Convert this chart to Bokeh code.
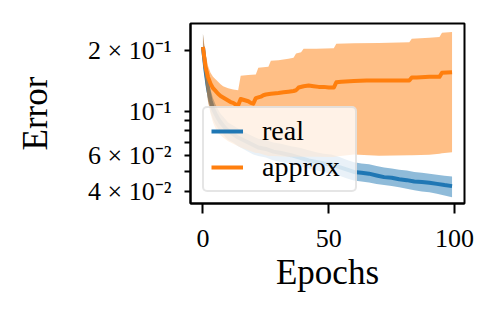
from bokeh.plotting import figure
from bokeh.models import FixedTicker, Legend, LegendItem
from bokeh.embed import file_html
from bokeh.resources import INLINE

# ---- data ----
real_epochs = [0, 1, 2, 3, 4, 5, 6, 7, 8, 9, 10, 12, 14, 16, 18, 20, 22, 25, 28, 31, 35, 38, 42, 45,
               48, 51, 54, 57, 60, 63, 66, 69, 72, 75, 78, 81, 84, 87, 90, 93, 96, 99]
real_mean = [0.208, 0.160, 0.130, 0.113, 0.103, 0.097, 0.092, 0.088, 0.085, 0.082, 0.080, 0.077, 0.074,
             0.072, 0.070, 0.068, 0.066, 0.065, 0.063, 0.062, 0.0605, 0.059, 0.057, 0.056, 0.055, 0.0545,
             0.053, 0.0515, 0.050, 0.0495, 0.049, 0.048, 0.0471, 0.0468, 0.046, 0.0455, 0.0448, 0.0445,
             0.0442, 0.0436, 0.043, 0.0425]
real_upper = [0.242, 0.185, 0.150, 0.128, 0.116, 0.108, 0.102, 0.097, 0.094, 0.091, 0.088, 0.085, 0.082,
              0.079, 0.077, 0.075, 0.073, 0.072, 0.070, 0.069, 0.067, 0.066, 0.064, 0.0625, 0.0615, 0.061,
              0.0595, 0.0575, 0.0558, 0.055, 0.0545, 0.0535, 0.0525, 0.052, 0.0513, 0.0508, 0.050, 0.0495,
              0.049, 0.0484, 0.0478, 0.0474]
real_lower = [0.180, 0.138, 0.113, 0.099, 0.091, 0.086, 0.082, 0.079, 0.077, 0.074, 0.072, 0.070, 0.067,
              0.065, 0.063, 0.061, 0.060, 0.059, 0.057, 0.056, 0.055, 0.0535, 0.052, 0.051, 0.050, 0.049,
              0.048, 0.0465, 0.0453, 0.0448, 0.0443, 0.0435, 0.043, 0.0425, 0.042, 0.0413, 0.0405, 0.040,
              0.0396, 0.039, 0.0382, 0.0374]

approx_epochs = [0, 1, 2, 3, 4, 5, 6, 7, 8, 9, 10, 11, 12, 13, 14, 15, 16, 17, 18, 19, 20, 21, 22, 23,
                 24, 25, 27, 30, 32, 34, 36, 37, 38, 40, 42, 44, 46, 48, 50, 52, 53, 55, 60, 65, 70, 75,
                 80, 82, 83, 85, 90, 94, 95, 99]
approx_mean = [0.208, 0.166, 0.148, 0.137, 0.130, 0.126, 0.122, 0.119, 0.117, 0.115, 0.113, 0.111, 0.110,
               0.108, 0.107, 0.115, 0.114, 0.113, 0.112, 0.110, 0.109, 0.116, 0.117, 0.118, 0.120, 0.121,
               0.122, 0.123, 0.124, 0.125, 0.126, 0.127, 0.131, 0.133, 0.134, 0.133, 0.132, 0.132, 0.131,
               0.131, 0.139, 0.140, 0.141, 0.142, 0.142, 0.142, 0.142, 0.142, 0.147, 0.147, 0.148, 0.148,
               0.155, 0.156]

band_epochs = [0, 1, 2, 3, 4, 5, 6, 7, 8, 10, 12, 14, 15, 18, 21, 22, 24, 26, 27, 30, 34, 36, 37, 39,
               40, 45, 52, 53, 60, 70, 82, 83, 90, 94, 95, 99]
approx_upper = [0.242, 0.193, 0.168, 0.155, 0.148, 0.144, 0.140, 0.136, 0.133, 0.130, 0.128, 0.127, 0.150,
                0.151, 0.152, 0.164, 0.165, 0.166, 0.178, 0.179, 0.182, 0.184, 0.193, 0.196, 0.204, 0.204,
                0.205, 0.216, 0.217, 0.218, 0.220, 0.229, 0.231, 0.233, 0.245, 0.247]
approx_lower = [0.185, 0.140, 0.112, 0.097, 0.088, 0.082, 0.078, 0.076, 0.074, 0.071, 0.069, 0.067, 0.066,
                0.064, 0.062, 0.062, 0.061, 0.060, 0.060, 0.0597, 0.0595, 0.0595, 0.0594, 0.0594, 0.0595,
                0.0594, 0.0593, 0.0596, 0.061, 0.0602, 0.0604, 0.0605, 0.0608, 0.0615, 0.0618, 0.0626]

x_ticks = [0, 50, 100]
y_ticks = [0.04, 0.06, 0.1, 0.2]
y_minor = [0.05, 0.07, 0.08, 0.09]
y_labels = {0.04: "4 × 10⁻²", 0.06: "6 × 10⁻²", 0.1: "10⁻¹", 0.2: "2 × 10⁻¹"}

BLUE = "#1f77b4"
ORANGE = "#ff7f0e"
FONT = "Liberation Serif"

p = figure(frame_width=274, frame_height=180, y_axis_type="log",
           x_range=(-4.95, 103.95), y_range=(0.03485, 0.2722),
           output_backend="svg", toolbar_location=None,
           min_border_left=190, min_border_right=34, min_border_top=23, min_border_bottom=113)

p.xgrid.visible = False
p.ygrid.visible = False
p.outline_line_color = "black"
p.outline_line_width = 2
p.background_fill_color = "white"
p.border_fill_color = "white"

p.varea(x=real_epochs, y1=real_lower, y2=real_upper, fill_color=BLUE, fill_alpha=0.5)
l_real = p.line(real_epochs, real_mean, line_color=BLUE, line_width=4, line_join="round")
p.varea(x=band_epochs, y1=approx_lower, y2=approx_upper, fill_color=ORANGE, fill_alpha=0.5)
l_approx = p.line(approx_epochs, approx_mean, line_color=ORANGE, line_width=4, line_join="round")

# axes
for ax in (p.xaxis[0], p.yaxis[0]):
    ax.axis_line_color = "black"
    ax.axis_line_width = 2
    ax.major_tick_line_color = "black"
    ax.major_tick_line_width = 2
    ax.minor_tick_line_color = "black"
    ax.minor_tick_line_width = 2
    ax.major_tick_in = 0
    ax.minor_tick_in = 0
    ax.major_label_text_font = FONT
    ax.major_label_text_font_size = "26px"
    ax.major_label_text_color = "black"
    ax.axis_label_text_font = FONT
    ax.axis_label_text_font_size = "35px"
    ax.axis_label_text_font_style = "normal"
    ax.axis_label_text_color = "black"

p.xaxis.ticker = FixedTicker(ticks=x_ticks)
p.xaxis.major_tick_out = 10
p.xaxis.major_label_standoff = 16
p.xaxis.axis_label = "Epochs"
p.xaxis.axis_label_standoff = 3

p.yaxis.ticker = FixedTicker(ticks=y_ticks, minor_ticks=y_minor)
p.yaxis.major_tick_out = 6
p.yaxis.minor_tick_out = 6
p.yaxis.major_label_standoff = 13
p.yaxis.major_label_overrides = y_labels
p.yaxis.axis_label = "Error"
p.yaxis.axis_label_standoff = 30

legend = Legend(items=[LegendItem(label="real", renderers=[l_real]),
                       LegendItem(label="approx", renderers=[l_approx])],
                location=(12, 11), margin=0, padding=7, spacing=4,
                glyph_width=32, glyph_height=28, label_height=28, label_width=86,
                label_standoff=19,
                label_text_font=FONT, label_text_font_size="28px", label_text_color="black",
                border_line_color="#cccccc", border_line_width=2,
                background_fill_color="white", background_fill_alpha=0.8)
if "border_radius" in Legend.properties():
    legend.border_radius = 5
p.add_layout(legend)

open("out.html", "w").write(file_html(p, INLINE))
